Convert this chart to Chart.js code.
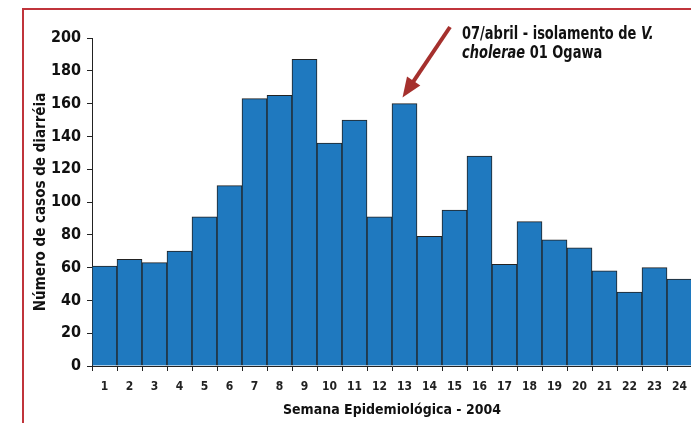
<!DOCTYPE html>
<html>
<head>
<meta charset="utf-8">
<script src="https://cdn.jsdelivr.net/npm/chart.js@4"></script>
<style>
  html, body { margin: 0; padding: 0; background: #fff; overflow: hidden; }
  #wrap { position: absolute; left: 0; top: 0; width: 700px; height: 423px; }
</style>
</head>
<body>
<div id="wrap"><canvas id="myChart" width="700" height="423"></canvas></div>
<script>
// Semanas epidemiológicas
const semanas = ['1','2','3','4','5','6','7','8','9','10','11','12','13','14','15','16','17','18','19','20','21','22','23','24'];
// Número de casos de diarréia por semana
const casos = [61, 65, 63, 70, 91, 110, 163, 165, 187, 136, 150, 91, 160, 79, 95, 128, 62, 88, 77, 72, 58, 45, 60, 53];
// Eixo y
const yMax = 200;
const yStep = 20;
const semanaIsolamento = 12; // índice da semana 13

const fonte = '"Liberation Sans Narrow", "DejaVu Sans Condensed", sans-serif';

// Moldura vermelha, seta e texto da anotação
const anotacao = {
    id: 'anotacao',
    afterDraw(chart) {
        const c = chart.ctx;
        c.save();
        // moldura
        c.strokeStyle = '#c0343b';
        c.lineWidth = 2;
        c.beginPath();
        c.moveTo(23, 423);
        c.lineTo(23, 9);
        c.lineTo(700, 9);
        c.stroke();

        // seta até a barra da semana 13
        const x = chart.scales.x.getPixelForValue(semanaIsolamento) - 2;
        const y = chart.scales.y.getPixelForValue(casos[semanaIsolamento]) - 6;
        const x0 = 450, y0 = 27;
        const ang = Math.atan2(y - y0, x - x0);
        c.strokeStyle = '#a5302d';
        c.fillStyle = '#a5302d';
        c.lineWidth = 4;
        c.beginPath();
        c.moveTo(x0, y0);
        c.lineTo(x - 16 * Math.cos(ang), y - 16 * Math.sin(ang));
        c.stroke();
        c.beginPath();
        c.moveTo(x, y);
        c.lineTo(x - 20 * Math.cos(ang) + 8 * Math.sin(ang), y - 20 * Math.sin(ang) - 8 * Math.cos(ang));
        c.lineTo(x - 20 * Math.cos(ang) - 8 * Math.sin(ang), y - 20 * Math.sin(ang) + 8 * Math.cos(ang));
        c.closePath();
        c.fill();

        // texto (fonte condensada)
        c.translate(462, 0);
        c.scale(0.85, 1);
        c.fillStyle = '#111';
        c.textBaseline = 'alphabetic';
        c.textAlign = 'left';
        const normal = 'bold 17px ' + fonte;
        const italico = 'italic bold 17px ' + fonte;
        let tx = 0;
        c.font = normal;
        c.fillText('07/abril - isolamento de ', tx, 39);
        tx += c.measureText('07/abril - isolamento de ').width;
        c.font = italico;
        c.fillText('V.', tx, 39);
        tx = 0;
        c.fillText('cholerae', tx, 58);
        tx += c.measureText('cholerae').width;
        c.font = normal;
        c.fillText(' 01 Ogawa', tx, 58);
        c.restore();
    }
};

const ctx = document.getElementById('myChart').getContext('2d');
const chart = new Chart(ctx, {
    type: 'bar',
    data: {
        labels: semanas,
        datasets: [{
            data: casos,
            backgroundColor: '#1f79bf',
            borderColor: '#222',
            borderWidth: 1,
            barPercentage: 1,
            categoryPercentage: 1
        }]
    },
    options: {
        responsive: false,
        animation: false,
        layout: { padding: { left: 24, top: 38, right: 8, bottom: 4 } },
        plugins: { legend: { display: false }, tooltip: { enabled: false } },
        scales: {
            x: {
                grid: { drawOnChartArea: false, color: '#222', tickLength: 5, offset: true },
                border: { color: '#222', width: 1 },
                ticks: { color: '#222', font: { family: fonte, size: 12, weight: 'bold' }, padding: 9, maxRotation: 0 },
                title: { display: true, text: 'Semana Epidemiológica - 2004', color: '#111', font: { family: fonte, size: 14, weight: 'bold' }, padding: 0 },
                afterFit(scale) { scale.height = 53; }
            },
            y: {
                min: 0,
                max: yMax,
                grid: { drawOnChartArea: false, color: '#222', tickLength: 5 },
                border: { color: '#222', width: 1 },
                ticks: { stepSize: yStep, color: '#111', font: { family: fonte, size: 16, weight: 'bold' }, padding: 6 },
                title: { display: true, text: 'Número de casos de diarréia', color: '#111', font: { family: fonte, size: 15, weight: 'bold' }, padding: { top: 8 } },
                afterFit(scale) { scale.width = 68; }
            }
        }
    },
    plugins: [anotacao]
});
</script>
</body>
</html>
